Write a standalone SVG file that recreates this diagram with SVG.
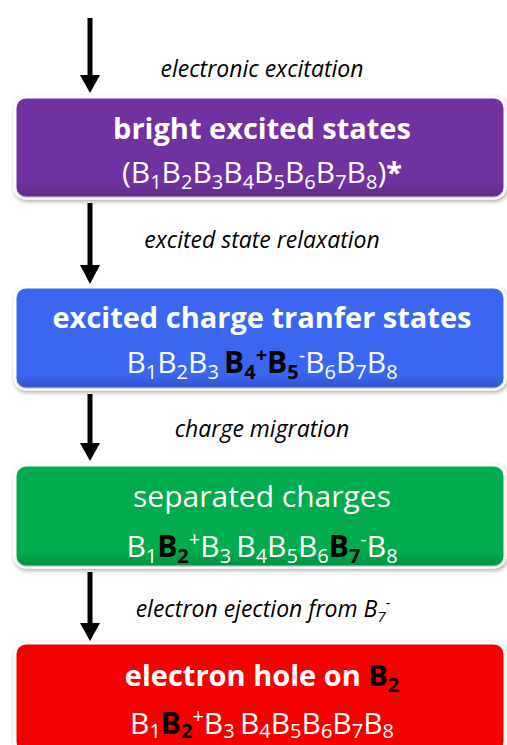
<svg xmlns="http://www.w3.org/2000/svg" width="507" height="745" viewBox="0 0 507 745">
  <defs>
    <filter id="shadow" x="-5%" y="-10%" width="110%" height="125%">
      <feGaussianBlur in="SourceAlpha" stdDeviation="2"/>
      <feOffset dx="1" dy="2" result="b"/>
      <feComponentTransfer><feFuncA type="linear" slope="0.35"/></feComponentTransfer>
      <feMerge><feMergeNode/><feMergeNode in="SourceGraphic"/></feMerge>
    </filter>
    <linearGradient id="shade" x1="0" y1="0" x2="0" y2="1">
      <stop offset="0" stop-color="#000" stop-opacity="0"/>
      <stop offset="0.85" stop-color="#000" stop-opacity="0"/>
      <stop offset="1" stop-color="#000" stop-opacity="0.18"/>
    </linearGradient>
  </defs>
  <style>
    .box { stroke: #fff; stroke-width: 3; filter: url(#shadow); }
    .gloss { fill: url(#shade); }
    .conn { stroke: #000; stroke-width: 5; fill: none; }
    .tip { fill: #000; }
    .lbl { font-family: "Open Sans", "Liberation Sans", sans-serif; font-style: italic; font-size: 23px; fill: #000; text-anchor: middle; }
    .t { font-family: "Open Sans", "Liberation Sans", sans-serif; font-size: 30px; fill: #fff; text-anchor: middle; }
    .b { font-weight: bold; font-size: 29px; }
    .k { fill: #000; font-weight: bold; }
    .s { font-size: 20px; }
    .ls { font-size: 15px; }
  </style>

  <!-- connectors: shafts with filled triangular heads -->
  <g id="connectors">
    <line class="conn" x1="90" y1="18" x2="90" y2="76"/>
    <path class="tip" d="M80,75 L100,75 L90,93 Z"/>
    <line class="conn" x1="90" y1="203" x2="90" y2="266"/>
    <path class="tip" d="M80,265 L100,265 L90,284 Z"/>
    <line class="conn" x1="90" y1="394" x2="90" y2="444"/>
    <path class="tip" d="M80,443 L100,443 L90,461 Z"/>
    <line class="conn" x1="90" y1="572" x2="90" y2="624"/>
    <path class="tip" d="M80,623 L100,623 L90,641 Z"/>
    <text class="lbl" x="262" y="77">electronic excitation</text>
    <text class="lbl" x="262" y="248">excited state relaxation</text>
    <text class="lbl" x="262" y="437">charge migration</text>
    <text class="lbl" x="263" y="617">electron ejection from B<tspan class="ls" dy="5">7</tspan><tspan class="ls" dy="-14">-</tspan></text>
  </g>

  <!-- bright excited states -->
  <g id="bright">
    <rect class="box" x="15" y="97" width="490" height="101" rx="11" fill="#7030A0"/>
    <rect class="gloss" x="15" y="97" width="490" height="101" rx="11"/>
    <text class="t b" x="262" y="139">bright excited states</text>
    <text class="t" x="262" y="183">(B<tspan class="s" dy="6">1</tspan><tspan dy="-6">B</tspan><tspan class="s" dy="6">2</tspan><tspan dy="-6">B</tspan><tspan class="s" dy="6">3</tspan><tspan dy="-6">B</tspan><tspan class="s" dy="6">4</tspan><tspan dy="-6">B</tspan><tspan class="s" dy="6">5</tspan><tspan dy="-6">B</tspan><tspan class="s" dy="6">6</tspan><tspan dy="-6">B</tspan><tspan class="s" dy="6">7</tspan><tspan dy="-6">B</tspan><tspan class="s" dy="6">8</tspan><tspan dy="-6">)</tspan><tspan class="b">*</tspan></text>
  </g>

  <!-- excited charge transfer states -->
  <g id="ct">
    <rect class="box" x="15" y="287" width="490" height="102" rx="11" fill="#3A66F2"/>
    <rect class="gloss" x="15" y="287" width="490" height="102" rx="11"/>
    <text class="t b" x="262" y="328">excited charge tranfer states</text>
    <text class="t" x="262" y="373">B<tspan class="s" dy="6">1</tspan><tspan dy="-6">B</tspan><tspan class="s" dy="6">2</tspan><tspan dy="-6">B</tspan><tspan class="s" dy="6">3 </tspan><tspan class="k" dy="-6">B</tspan><tspan class="k s" dy="6">4</tspan><tspan class="k s" dy="-17">+</tspan><tspan class="k" dy="11">B</tspan><tspan class="k s" dy="6">5</tspan><tspan class="s" dy="-17">-</tspan><tspan dy="11">B</tspan><tspan class="s" dy="6">6</tspan><tspan dy="-6">B</tspan><tspan class="s" dy="6">7</tspan><tspan dy="-6">B</tspan><tspan class="s" dy="6">8</tspan></text>
  </g>

  <!-- separated charges -->
  <g id="separated">
    <rect class="box" x="15" y="465" width="490" height="102" rx="11" fill="#00AC4E"/>
    <rect class="gloss" x="15" y="465" width="490" height="102" rx="11"/>
    <text class="t" x="262" y="507">separated charges</text>
    <text class="t" x="262" y="557">B<tspan class="s" dy="6">1</tspan><tspan class="k" dy="-6">B</tspan><tspan class="k s" dy="6">2</tspan><tspan class="s" dy="-17">+</tspan><tspan dy="11">B</tspan><tspan class="s" dy="6">3 </tspan><tspan dy="-6">B</tspan><tspan class="s" dy="6">4</tspan><tspan dy="-6">B</tspan><tspan class="s" dy="6">5</tspan><tspan dy="-6">B</tspan><tspan class="s" dy="6">6</tspan><tspan class="k" dy="-6">B</tspan><tspan class="k s" dy="6">7</tspan><tspan class="s" dy="-17">-</tspan><tspan dy="11">B</tspan><tspan class="s" dy="6">8</tspan></text>
  </g>

  <!-- electron hole -->
  <g id="hole">
    <rect class="box" x="15" y="643" width="490" height="110" rx="11" fill="#F50000"/>
    <text class="t b" x="262" y="686">electron hole on <tspan class="k">B</tspan><tspan class="k s" dy="6">2</tspan></text>
    <text class="t" x="262" y="734">B<tspan class="s" dy="4">1</tspan><tspan class="k" dy="-4">B</tspan><tspan class="k s" dy="4">2</tspan><tspan class="s" dy="-15">+</tspan><tspan dy="11">B</tspan><tspan class="s" dy="4">3 </tspan><tspan dy="-4">B</tspan><tspan class="s" dy="4">4</tspan><tspan dy="-4">B</tspan><tspan class="s" dy="4">5</tspan><tspan dy="-4">B</tspan><tspan class="s" dy="4">6</tspan><tspan dy="-4">B</tspan><tspan class="s" dy="4">7</tspan><tspan dy="-4">B</tspan><tspan class="s" dy="4">8</tspan></text>
  </g>
</svg>
